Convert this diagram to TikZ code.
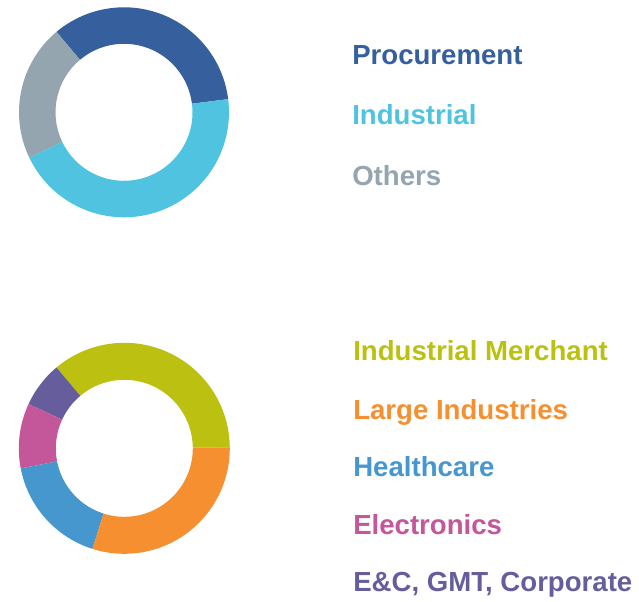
\documentclass[tikz,border=0pt]{standalone}
\usepackage{fontspec}
\setmainfont{Liberation Sans}
\definecolor{procblue}{RGB}{54,96,157}
\definecolor{indblue}{RGB}{80,195,224}
\definecolor{othgrey}{RGB}{149,165,176}
\definecolor{merchgreen}{RGB}{187,192,17}
\definecolor{largeorange}{RGB}{245,143,47}
\definecolor{healthblue}{RGB}{69,151,205}
\definecolor{elecpink}{RGB}{196,86,154}
\definecolor{ecpurple}{RGB}{102,94,156}

\begin{document}
\begin{tikzpicture}[x=0.75pt, y=0.75pt,
    legend/.style={anchor=base west, inner sep=0pt, font=\bfseries\fontsize{20.7}{25}\selectfont}]
    \useasboundingbox (0,0) rectangle (639,601);
    % Upper ring
    \begin{scope}[shift={(124,488.7)}]
        \foreach \a/\b/\c in {7.2/130/procblue, 130/205.6/othgrey, 205.6/367.2/indblue}
            \fill[\c] (\a:105) arc[start angle=\a, end angle=\b, radius=105]
                -- (\b:68.5) arc[start angle=\b, end angle=\a, radius=68.5] -- cycle;
    \end{scope}
    \node[legend, text=procblue] (procurement) at (352,536) {Procurement};
    \node[legend, text=indblue] (industrial) at (352,476) {Industrial};
    \node[legend, text=othgrey] (others) at (352,416) {Others};
    % Lower ring
    \begin{scope}[shift={(124.3,152.7)}]
        \foreach \a/\b/\c in {0.5/130/merchgreen, 130/155.2/ecpurple, 155.2/191/elecpink,
                              191/252.4/healthblue, 252.4/360.5/largeorange}
            \fill[\c] (\a:105.5) arc[start angle=\a, end angle=\b, radius=105.5]
                -- (\b:68.5) arc[start angle=\b, end angle=\a, radius=68.5] -- cycle;
    \end{scope}
    \node[legend, text=merchgreen] (merchant) at (353,240.3) {Industrial Merchant};
    \node[legend, text=largeorange] (large) at (353,181.7) {Large Industries};
    \node[legend, text=healthblue] (health) at (353,124.3) {Healthcare};
    \node[legend, text=elecpink] (elec) at (353,67) {Electronics};
    \node[legend, text=ecpurple] (ec) at (353,9.3) {E\&C, GMT, Corporate};
\end{tikzpicture}
\end{document}
